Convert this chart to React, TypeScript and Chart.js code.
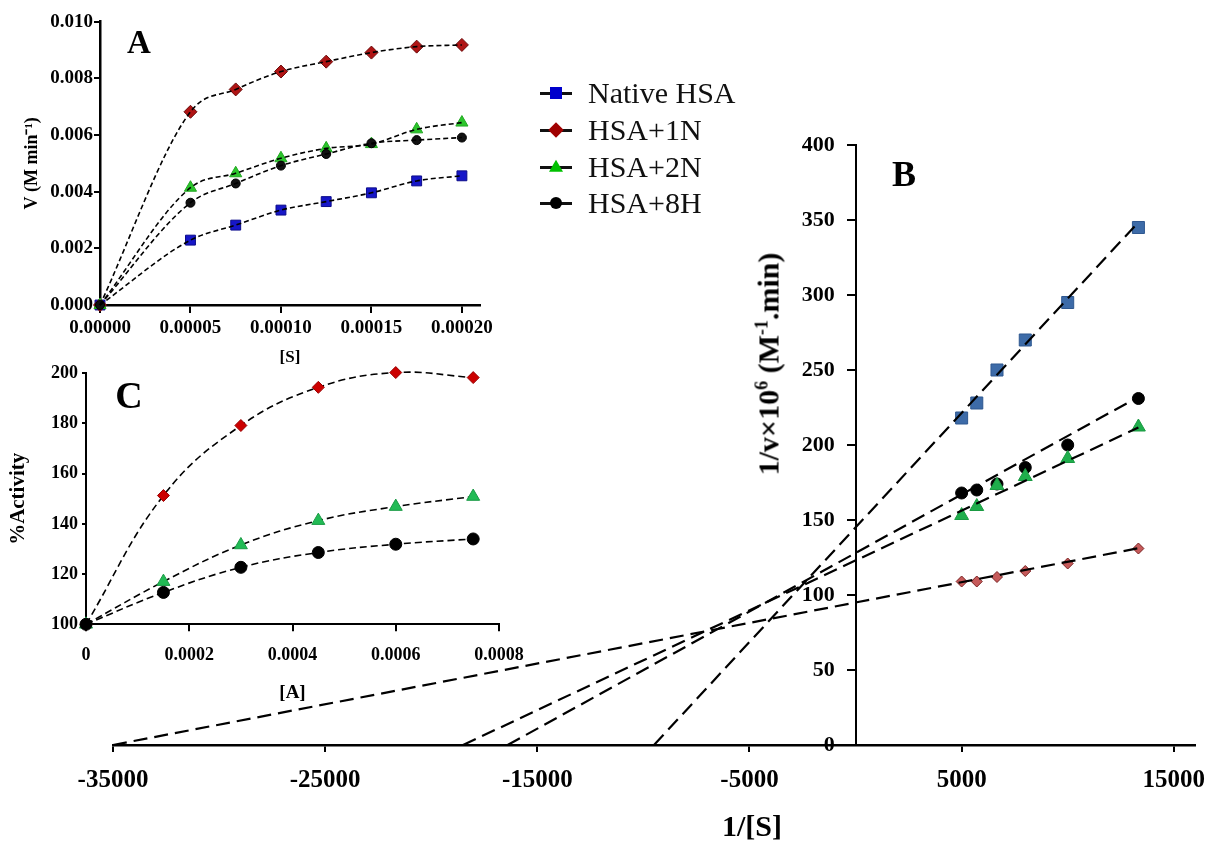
import React, { useEffect, useRef } from "react";
import { Chart, registerables } from "chart.js";
Chart.register(...registerables);

const FONT = "'Liberation Serif', 'Times New Roman', Times, serif";

// ---------- Panel B (Lineweaver-Burk) ----------
const seriesNames = ["Native HSA", "HSA+1N", "HSA+2N", "HSA+8H"];
const invS = [5000, 5714, 6667, 8000, 10000, 13333];
const invVNative = [218, 228, 250, 270, 295, 345];
const invV1N = [109, 109, 112, 116, 121, 131];
const invV2N = [153, 159, 173, 179, 191, 212];
const invV8H = [168, 170, 174, 185, 200, 231];
const fitXIntercepts = [-9500, -35000, -18500, -16400];
const fitYIntercepts = [145, 95, 123, 128];
const bXTicks = [-35000, -25000, -15000, -5000, 5000, 15000];
const bYTicks = [0, 50, 100, 150, 200, 250, 300, 350, 400];

// ---------- Panel A (Michaelis-Menten) ----------
const substrate = [0, 0.00005, 0.000075, 0.0001, 0.000125, 0.00015, 0.000175, 0.0002];
const vNative = [0, 0.00229, 0.00282, 0.00335, 0.00365, 0.00396, 0.00438, 0.00456];
const v1N = [0, 0.00682, 0.00761, 0.00824, 0.00859, 0.00891, 0.00912, 0.00918];
const v2N = [0, 0.00414, 0.00465, 0.00518, 0.00553, 0.00568, 0.0062, 0.00644];
const v8H = [0, 0.00361, 0.00429, 0.00492, 0.00533, 0.00571, 0.00582, 0.00591];
const aXTicks = [0, 0.00005, 0.0001, 0.00015, 0.0002];
const aYTicks = [0, 0.002, 0.004, 0.006, 0.008, 0.01];

// ---------- Panel C (% activity) ----------
const activator = [0, 0.00015, 0.0003, 0.00045, 0.0006, 0.00075];
const act1N = [100, 151.3, 179.2, 194.4, 200.3, 198.3];
const act2N = [100, 117.0, 131.6, 141.3, 146.9, 150.9];
const act8H = [100, 112.7, 122.7, 128.6, 131.9, 134.0];
const cXTicks = [0, 0.0002, 0.0004, 0.0006, 0.0008];
const cYTicks = [100, 120, 140, 160, 180, 200];

const pts = (xs: number[], ys: number[]) => xs.map((x, i) => ({ x, y: ys[i] }));
const fixTicks = (vals: number[]) => (s: any) => {
  s.ticks = vals.map((v) => ({ value: v }));
};
const bold = (size: number) => ({ family: FONT, size, weight: "bold" as const });

function makeB(): any {
  const lastX = invS[invS.length - 1];
  const bSeries = [invVNative, invV1N, invV2N, invV8H];
  const styles = [
    { pointStyle: "rect", radius: 8.5, bg: "#3d6ba8", border: "#2f5890" },
    { pointStyle: "rectRot", radius: 5.5, bg: "#c65a5a", border: "#7a2222" },
    { pointStyle: "triangle", radius: 8, bg: "#1fae4c", border: "#1a9a42" },
    { pointStyle: "circle", radius: 6, bg: "#000000", border: "#000000" },
  ];
  const fits = fitXIntercepts.map((xi, i) => ({
    label: seriesNames[i] + " fit",
    data: [
      { x: xi, y: 0 },
      { x: lastX, y: fitYIntercepts[i] * (1 - lastX / xi) },
    ],
    showLine: true,
    borderColor: "#000",
    borderWidth: 2.2,
    borderDash: [14, 7],
    pointRadius: 0,
    order: 0,
    clip: false,
  }));
  const markers = bSeries.map((ys, i) => ({
    label: seriesNames[i],
    data: pts(invS, ys),
    showLine: false,
    pointStyle: styles[i].pointStyle,
    pointRadius: styles[i].radius,
    backgroundColor: styles[i].bg,
    borderColor: styles[i].border,
    borderWidth: 1,
    order: 1 + i,
    clip: false,
  }));
  return {
    type: "scatter",
    data: { datasets: [...fits, ...markers] },
    options: {
      responsive: false,
      animation: false,
      devicePixelRatio: 1,
      layout: { padding: { left: 113, right: 11, top: 145, bottom: 0 } },
      plugins: { legend: { display: false }, tooltip: { enabled: false } },
      scales: {
        x: {
          type: "linear",
          position: "bottom",
          min: -35000,
          max: 16000,
          afterBuildTicks: fixTicks(bXTicks),
          afterFit: (s: any) => {
            s.height = 100;
            s.paddingLeft = 0;
            s.paddingRight = 0;
          },
          grid: { drawOnChartArea: false, drawTicks: true, tickLength: 7, color: "#000", lineWidth: 2 },
          border: { display: true, color: "#000", width: 2.5 },
          ticks: {
            color: "#000",
            font: bold(25),
            padding: 14,
            maxRotation: 0,
            autoSkip: false,
            callback: (v: any) => String(v),
          },
        },
        y: {
          type: "linear",
          axis: "y",
          position: { x: 0 },
          min: 0,
          max: 400,
          afterBuildTicks: fixTicks(bYTicks),
          grid: { drawOnChartArea: false, drawTicks: true, tickLength: 8, color: "#000", lineWidth: 2 },
          border: { display: true, color: "#000", width: 2 },
          ticks: { display: false },
        },
        yLabels: {
          type: "linear",
          axis: "y",
          position: { x: -975 },
          min: 0,
          max: 400,
          afterBuildTicks: fixTicks(bYTicks),
          grid: { display: false },
          border: { display: false },
          ticks: { color: "#000", font: bold(22), callback: (v: any) => String(v) },
        },
      },
    },
  };
}

function makeA(): any {
  const series = [vNative, v1N, v2N, v8H];
  const styles = [
    { pointStyle: "rect", radius: 7, bg: "#1616c8", border: "#0c0c8a" },
    { pointStyle: "rectRot", radius: 6.5, bg: "#b01414", border: "#6a0a0a" },
    { pointStyle: "triangle", radius: 7, bg: "#2cc52c", border: "#22a822" },
    { pointStyle: "circle", radius: 4.5, bg: "#111", border: "#000" },
  ];
  const curves = series.map((ys, i) => ({
    label: seriesNames[i] + " curve",
    data: pts(substrate, ys),
    showLine: true,
    cubicInterpolationMode: "monotone",
    borderColor: "#000",
    borderWidth: 1.6,
    borderDash: [5, 3],
    pointRadius: 0,
    order: 0,
    clip: false,
  }));
  const markers = series.map((ys, i) => ({
    label: seriesNames[i],
    data: pts(substrate, ys),
    showLine: false,
    pointStyle: styles[i].pointStyle,
    pointRadius: styles[i].radius,
    backgroundColor: styles[i].bg,
    borderColor: styles[i].border,
    borderWidth: 1,
    order: 5 - i,
    clip: false,
  }));
  return {
    type: "scatter",
    data: { datasets: [...curves, ...markers] },
    options: {
      responsive: false,
      animation: false,
      devicePixelRatio: 1,
      layout: { padding: { left: 0, right: 40, top: 21.7, bottom: 0 } },
      plugins: { legend: { display: false }, tooltip: { enabled: false } },
      scales: {
        x: {
          type: "linear",
          min: 0,
          max: 0.00021,
          afterBuildTicks: fixTicks(aXTicks),
          afterFit: (s: any) => {
            s.height = 65;
            s.paddingLeft = 0;
            s.paddingRight = 0;
          },
          grid: { drawOnChartArea: false, tickLength: 8, color: "#000", lineWidth: 2 },
          border: { color: "#000", width: 2.5 },
          ticks: { color: "#000", font: bold(19), padding: 4, maxRotation: 0, autoSkip: false, callback: (v: any) => Number(v).toFixed(5) },
          title: { display: true, text: "[S]", color: "#000", font: bold(17), padding: { top: 0, bottom: 2 } },
        },
        y: {
          type: "linear",
          min: 0,
          max: 0.01,
          afterBuildTicks: fixTicks(aYTicks),
          afterFit: (s: any) => {
            s.width = 100;
          },
          grid: { drawOnChartArea: false, tickLength: 6, color: "#000", lineWidth: 2 },
          border: { color: "#000", width: 2.5 },
          ticks: { color: "#000", font: bold(19), padding: 1, callback: (v: any) => Number(v).toFixed(3) },
          title: { display: true, text: "V (M min\u207B\u00B9)", color: "#000", font: bold(18), padding: { top: 22, bottom: 0 } },
        },
      },
    },
  };
}

function makeC(): any {
  const series = [act1N, act2N, act8H];
  const styles = [
    { pointStyle: "rectRot", radius: 6, bg: "#cc0000", border: "#990000" },
    { pointStyle: "triangle", radius: 7.5, bg: "#22bb55", border: "#1a9a45" },
    { pointStyle: "circle", radius: 6, bg: "#000", border: "#000" },
  ];
  const ds = series.map((ys, i) => ({
    label: seriesNames[i + 1],
    data: pts(activator, ys),
    showLine: true,
    tension: 0.4,
    borderColor: "#000",
    borderWidth: 1.6,
    borderDash: [7, 4],
    pointStyle: styles[i].pointStyle,
    pointRadius: styles[i].radius,
    backgroundColor: styles[i].bg,
    pointBorderColor: styles[i].border,
    pointBorderWidth: 1,
    order: 3 - i,
    clip: false,
  }));
  return {
    type: "scatter",
    data: { datasets: ds },
    options: {
      responsive: false,
      animation: false,
      devicePixelRatio: 1,
      layout: { padding: { left: 0, right: 41, top: 43.3, bottom: 0 } },
      plugins: { legend: { display: false }, tooltip: { enabled: false } },
      scales: {
        x: {
          type: "linear",
          min: 0,
          max: 0.0008,
          afterBuildTicks: fixTicks(cXTicks),
          afterFit: (s: any) => {
            s.height = 85.7;
            s.paddingLeft = 0;
            s.paddingRight = 0;
          },
          grid: { drawOnChartArea: false, tickLength: 7, color: "#000", lineWidth: 2 },
          border: { color: "#000", width: 2 },
          ticks: {
            color: "#000",
            font: bold(18),
            padding: 13,
            maxRotation: 0,
            autoSkip: false,
            callback: (v: any) => (Number(v) === 0 ? "0" : Number(v).toFixed(4)),
          },
          title: { display: true, text: "[A]", color: "#000", font: bold(19), padding: { top: 0, bottom: 5.6 } },
        },
        y: {
          type: "linear",
          min: 100,
          max: 200,
          afterBuildTicks: fixTicks(cYTicks),
          afterFit: (s: any) => {
            s.width = 86;
          },
          grid: { drawOnChartArea: false, tickLength: 4, color: "#000", lineWidth: 2 },
          border: { color: "#000", width: 2 },
          ticks: { color: "#000", font: bold(18), padding: 4, callback: (v: any) => String(v) },
          title: { display: true, text: "%Activity", color: "#000", font: bold(21), padding: { top: 6, bottom: 0 } },
        },
      },
    },
  };
}

function ChartCanvas({ x, y, w, h, make }: { x: number; y: number; w: number; h: number; make: () => any }) {
  const ref = useRef<HTMLCanvasElement>(null);
  useEffect(() => {
    const chart = new Chart(ref.current as HTMLCanvasElement, make());
    return () => chart.destroy();
  }, []);
  return (
    <div style={{ position: "absolute", left: x, top: y, width: w, height: h }}>
      <canvas ref={ref} width={w} height={h} style={{ width: w, height: h, display: "block" }} />
    </div>
  );
}

function Text({ x, y, size, children, weight = 700, rotate = 0 }: any) {
  return (
    <div
      style={{
        position: "absolute",
        left: x,
        top: y,
        transform: `translate(-50%, -50%) rotate(${rotate}deg)`,
        fontFamily: FONT,
        fontSize: size,
        fontWeight: weight,
        lineHeight: 1,
        whiteSpace: "nowrap",
        color: "#000",
      }}
    >
      {children}
    </div>
  );
}

const legendMarkers = [
  { kind: "square", color: "#0000cc" },
  { kind: "diamond", color: "#a00000" },
  { kind: "triangle", color: "#00c000" },
  { kind: "circle", color: "#000000" },
];

function LegendMarker({ kind, color }: { kind: string; color: string }) {
  const base: React.CSSProperties = { position: "absolute", left: "50%", top: "50%" };
  if (kind === "square")
    return <div style={{ ...base, width: 12, height: 12, background: color, transform: "translate(-50%,-50%)" }} />;
  if (kind === "diamond")
    return <div style={{ ...base, width: 11, height: 11, background: color, transform: "translate(-50%,-50%) rotate(45deg)" }} />;
  if (kind === "triangle")
    return (
      <div
        style={{
          ...base,
          width: 0,
          height: 0,
          borderLeft: "7px solid transparent",
          borderRight: "7px solid transparent",
          borderBottom: `12px solid ${color}`,
          transform: "translate(-50%,-60%)",
        }}
      />
    );
  return <div style={{ ...base, width: 12, height: 12, borderRadius: "50%", background: color, transform: "translate(-50%,-50%)" }} />;
}

function Legend() {
  const ys = [93, 130, 167, 203];
  return (
    <>
      {seriesNames.map((name, i) => (
        <div key={name}>
          <div style={{ position: "absolute", left: 540, top: ys[i] - 10, width: 32, height: 20 }}>
            <div style={{ position: "absolute", left: 0, top: 8.5, width: 32, height: 3, background: "#111" }} />
            <LegendMarker {...legendMarkers[i]} />
          </div>
          <div
            style={{
              position: "absolute",
              left: 588,
              top: ys[i],
              transform: "translateY(-50%)",
              fontFamily: FONT,
              fontSize: 30,
              lineHeight: 1,
              whiteSpace: "nowrap",
              color: "#111",
            }}
          >
            {name}
          </div>
        </div>
      ))}
    </>
  );
}

export default function App() {
  return (
    <div style={{ position: "absolute", left: 0, top: 0, width: 1206, height: 845, background: "#fff", overflow: "hidden" }}>
      <ChartCanvas x={0} y={0} w={1206} h={845} make={makeB} />
      <ChartCanvas x={0} y={330} w={540} h={380} make={makeC} />
      <ChartCanvas x={0} y={0} w={520} h={370} make={makeA} />
      <Text x={139} y={42} size={33}>A</Text>
      <Text x={904} y={174} size={36}>B</Text>
      <Text x={129} y={395} size={38}>C</Text>
      <Text x={752} y={826} size={30}>1/[S]</Text>
      <Text x={768} y={364} size={30} rotate={-90}>
        1/v×10<sup style={{ fontSize: "0.6em" }}>6</sup> (M<sup style={{ fontSize: "0.6em" }}>-1</sup>.min)
      </Text>
      <Legend />
    </div>
  );
}
